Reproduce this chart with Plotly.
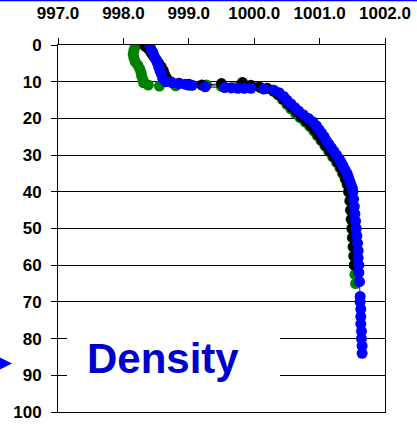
import plotly.graph_objects as go

# Density profiles (kg/m^3) against depth (m) for three casts
green_density = [998.18, 998.16, 998.15, 998.16, 998.18, 998.22, 998.25, 998.27, 998.28, 998.30,
                 998.31, 998.38, 998.55, 998.80, 999.00, 999.27, 999.50, 999.80, 1000.10, 1000.28,
                 1000.36, 1000.43, 1000.50, 1000.56, 1000.63, 1000.70, 1000.78, 1000.85, 1000.91, 1000.96,
                 1001.02, 1001.08, 1001.14, 1001.20, 1001.26, 1001.31, 1001.35, 1001.39, 1001.42, 1001.44,
                 1001.46, 1001.47, 1001.48, 1001.49, 1001.50, 1001.51, 1001.52, 1001.53, 1001.54, 1001.55]
green_depth = [0.5, 1.5, 2.5, 3.5, 4.5, 5.5, 6.5, 7.5, 8.5, 9.5,
               10.3, 10.9, 11.2, 11.1, 11.0, 10.9, 11.3, 11.5, 11.7, 12.3,
               13.5, 14.8, 16.2, 17.4, 18.6, 19.8, 21.0, 22.2, 23.4, 24.6,
               26.0, 27.5, 29.0, 30.5, 32.0, 33.5, 35.0, 36.5, 38.0, 40.0,
               42.5, 45.0, 47.5, 50.0, 52.5, 55.0, 57.5, 60.0, 62.5, 65.0]

black_density = [998.33, 998.38, 998.42, 998.46, 998.50, 998.54, 998.58, 998.61, 998.63, 998.66,
                 998.72, 998.85, 999.00, 999.20, 999.50, 999.82, 999.95, 1000.08, 1000.20, 1000.30,
                 1000.38, 1000.45, 1000.52, 1000.58, 1000.65, 1000.72, 1000.80, 1000.87, 1000.93, 1000.98,
                 1001.04, 1001.10, 1001.16, 1001.22, 1001.28, 1001.33, 1001.37, 1001.40, 1001.43, 1001.45,
                 1001.47, 1001.48, 1001.49, 1001.50, 1001.51, 1001.52, 1001.53, 1001.53]
black_depth = [0.3, 1.0, 2.0, 3.0, 4.0, 5.0, 6.0, 7.0, 8.0, 9.0,
               10.0, 10.4, 10.7, 10.9, 10.5, 10.2, 11.0, 11.4, 11.8, 12.6,
               13.6, 14.8, 16.0, 17.0, 18.2, 19.5, 20.8, 22.0, 23.2, 24.5,
               26.0, 27.5, 29.0, 30.5, 32.0, 33.5, 35.0, 36.5, 38.0, 40.0,
               42.5, 45.0, 47.5, 50.0, 52.5, 55.0, 57.5, 60.0]

blue_density = [998.40, 998.42, 998.45, 998.47, 998.50, 998.52, 998.54, 998.56, 998.58, 998.60,
                998.65, 998.75, 998.85, 998.95, 999.05, 999.25, 999.55, 999.65, 999.75, 999.85,
                999.95, 1000.15, 1000.30, 1000.38, 1000.45, 1000.50, 1000.56, 1000.62, 1000.68, 1000.75,
                1000.83, 1000.90, 1000.95, 1000.99, 1001.03, 1001.07, 1001.10, 1001.14, 1001.18, 1001.22,
                1001.26, 1001.30, 1001.33, 1001.36, 1001.39, 1001.42, 1001.44, 1001.46, 1001.48, 1001.50,
                1001.51, 1001.52, 1001.53, 1001.54, 1001.55, 1001.56, 1001.57, 1001.58, 1001.59, 1001.59,
                1001.60, 1001.60, 1001.61, 1001.62, 1001.62, 1001.63, 1001.63, 1001.63, 1001.64, 1001.64,
                1001.65, 1001.65]
blue_depth = [0.0, 1.0, 2.0, 3.0, 4.0, 5.0, 6.0, 7.0, 8.0, 9.0,
              10.0, 10.3, 10.5, 10.7, 11.0, 11.4, 11.6, 11.7, 11.8, 11.8,
              11.8, 12.0, 12.3, 13.0, 14.0, 15.0, 16.0, 17.0, 18.0, 19.0,
              20.0, 21.0, 22.0, 23.0, 24.0, 25.0, 26.0, 27.0, 28.0, 29.0,
              30.0, 31.0, 32.0, 33.0, 34.0, 35.0, 36.0, 37.0, 38.0, 39.0,
              40.0, 42.0, 44.0, 46.0, 48.0, 50.0, 52.0, 54.0, 56.0, 58.0,
              60.0, 62.0, 64.5, 68.5, 70.0, 72.0, 74.0, 76.0, 78.0, 80.0,
              82.0, 84.0]

x_ticks = [997.0, 998.0, 999.0, 1000.0, 1001.0, 1002.0]
y_ticks = [0, 10, 20, 30, 40, 50, 60, 70, 80, 90, 100]
label_text = "Density"

W, H = 417, 425
ML, MR, MT, MB = 58, 32, 45, 13
PW, PH = W - ML - MR, H - MT - MB


def px_x(px):
    return (px - ML) / PW


def px_y(py):
    return (H - MB - py) / PH


tick_font = dict(family="Liberation Sans, Arial, sans-serif", size=17, color="black", weight="bold")

fig = go.Figure()
for dens, dep, col in [(green_density, green_depth, "#008000"),
                       (black_density, black_depth, "#000000"),
                       (blue_density, blue_depth, "#0000FF")]:
    fig.add_trace(go.Scatter(
        x=dens, y=dep, mode="lines+markers",
        line=dict(color=col, width=1),
        marker=dict(color=col, size=11, line=dict(width=0)),
        showlegend=False, hoverinfo="skip"))

# white panel behind the label
fig.add_shape(type="rect", xref="paper", yref="paper",
              x0=px_x(67), x1=px_x(280), y0=px_y(400), y1=px_y(318),
              fillcolor="white", line=dict(width=0), layer="above")
# thin blue rule along the top edge
fig.add_shape(type="line", xref="paper", yref="paper",
              x0=px_x(0), x1=px_x(W), y0=px_y(0.6), y1=px_y(0.6),
              line=dict(color="#0000FF", width=1.5))
# arrow head at the left edge
fig.add_shape(type="path", xref="paper", yref="paper",
              path=(f"M {px_x(-1)} {px_y(357)} L {px_x(12)} {px_y(363.5)} "
                    f"L {px_x(-1)} {px_y(370)} Z"),
              fillcolor="#0000FF", line=dict(width=0))

fig.add_annotation(x=px_x(163), y=px_y(358), xref="paper", yref="paper",
                   text=label_text, showarrow=False, xanchor="center", yanchor="middle",
                   font=dict(family="Liberation Sans, Arial, sans-serif", size=42,
                             color="#0000CC", weight="bold"))

fig.update_layout(
    width=W, height=H,
    margin=dict(l=ML, r=MR, t=MT, b=MB, pad=0, autoexpand=False),
    paper_bgcolor="white", plot_bgcolor="white",
    xaxis=dict(range=[997, 1002], side="top", tickvals=x_ticks,
               ticktext=[f"{v:.1f}" for v in x_ticks],
               ticks="outside", ticklen=6, tickwidth=1, tickcolor="black",
               showline=True, linecolor="black", linewidth=1, mirror=True,
               showgrid=False, zeroline=False, tickfont=tick_font,
               ticklabelstandoff=12, automargin=False),
    yaxis=dict(range=[100, 0], tickvals=y_ticks,
               ticktext=[str(v) for v in y_ticks],
               ticks="outside", ticklen=6, tickwidth=1, tickcolor="black",
               showline=True, linecolor="black", linewidth=1, mirror=True,
               showgrid=True, gridcolor="black", gridwidth=1, zeroline=False,
               tickfont=tick_font, ticklabelstandoff=6, automargin=False),
)

fig.write_html("out.html")
